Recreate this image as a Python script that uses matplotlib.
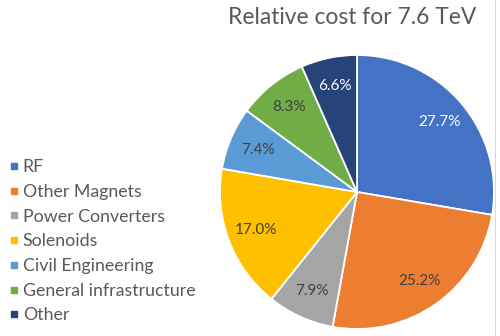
import matplotlib
matplotlib.use("Agg")
import matplotlib.pyplot as plt
from matplotlib.lines import Line2D

categories = ["RF", "Other Magnets", "Power Converters", "Solenoids",
              "Civil Engineering", "General infrastructure", "Other"]
shares = [27.7, 25.2, 7.9, 17.0, 7.4, 8.3, 6.6]
colors = ["#4472C4", "#ED7D31", "#A5A5A5", "#FFC000",
          "#5B9BD5", "#70AD47", "#264478"]
label_colors = ["white", "#404040", "#404040", "#404040",
                "#404040", "#404040", "white"]
title = "Relative cost for 7.6 TeV"

plt.rcParams["font.family"] = ["Lato", "DejaVu Sans"]

W, H = 500, 336
fig = plt.figure(figsize=(W / 100, H / 100), dpi=100)
fig.patch.set_facecolor("white")

cx, cy, r = 357, 192, 137
ax = fig.add_axes([(cx - r) / W, (H - cy - r) / H, 2 * r / W, 2 * r / H])
wedges, texts = ax.pie(
    shares, colors=colors, startangle=90, counterclock=False,
    labels=[f"{v:.1f}%" for v in shares], labeldistance=0.79,
    wedgeprops=dict(edgecolor="white", linewidth=1.3),
    textprops=dict(fontsize=11, ha="center", va="center"),
)
for t, c in zip(texts, label_colors):
    t.set_color(c)
    t.set_horizontalalignment("center")
ax.set_xlim(-1, 1)
ax.set_ylim(-1, 1)
ax.set_aspect("equal")
ax.axis("off")

fig.text(352 / W, 1 - 17 / H, title, ha="center", va="center",
         fontsize=16.4, color="#595959")

handles = [Line2D([], [], marker="s", linestyle="none", markersize=4.5,
                  markerfacecolor=c, markeredgecolor=c) for c in colors]
fig.legend(handles, categories, loc="upper left",
           bbox_to_anchor=(-0.012, 1 - 145 / H), frameon=False,
           fontsize=12.8, labelcolor="#595959", handlelength=0.6,
           handletextpad=0.22, labelspacing=0.49, borderpad=0.3)

# thin frame line on the right side
fig.add_artist(Line2D([495 / W, 495 / W], [0, 1], color="#D9D9D9",
                      linewidth=0.8, transform=fig.transFigure))

fig.savefig("out.png", dpi=100)
